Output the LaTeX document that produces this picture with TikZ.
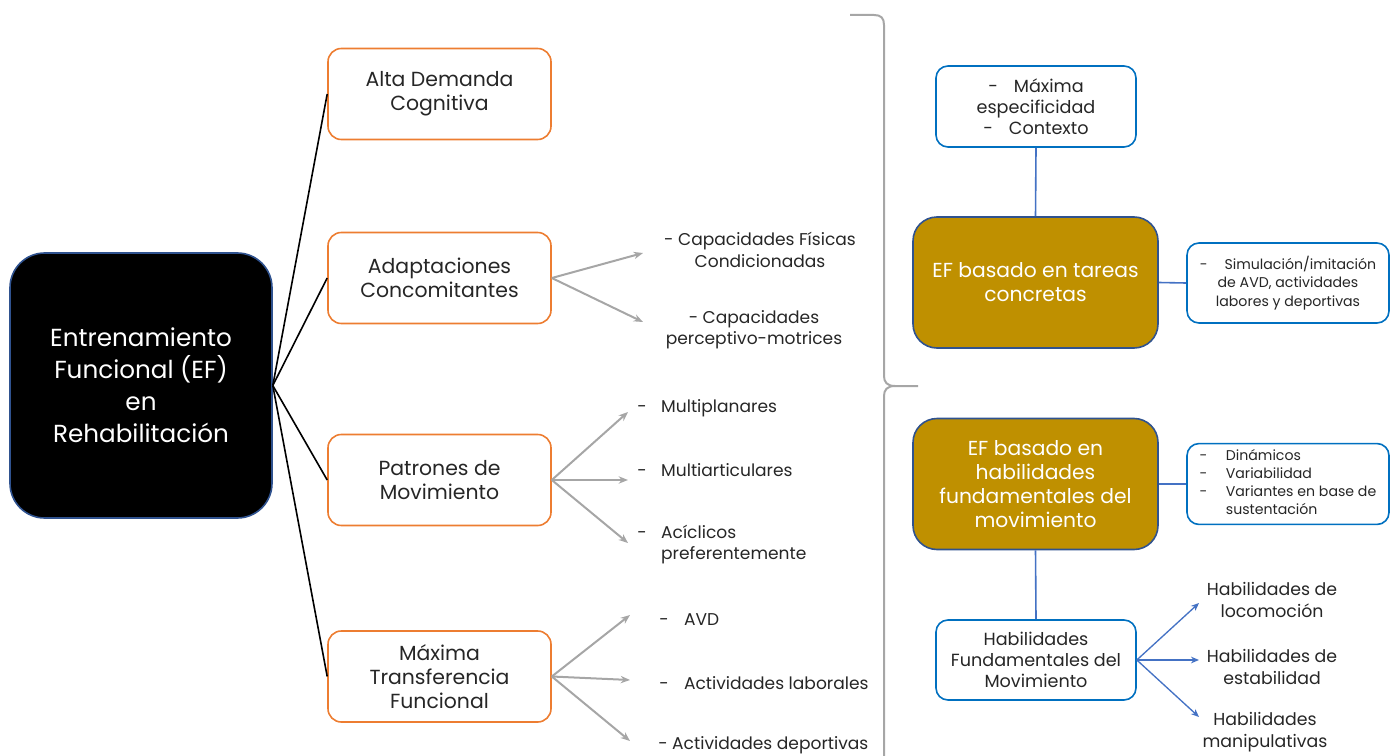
\documentclass[tikz,border=0pt]{standalone}
\usepackage{fontspec}
\setmainfont{Poppins}
\usetikzlibrary{arrows.meta}
\definecolor{orng}{HTML}{ED7D31}
\definecolor{gold}{HTML}{BF9000}
\definecolor{dkblue}{HTML}{2F528F}
\definecolor{bxblue}{HTML}{0070C0}
\definecolor{lnblue}{HTML}{4472C4}
\definecolor{gry}{HTML}{A6A6A6}
\definecolor{txt}{HTML}{262626}
\tikzset{
  mainbox/.style={draw=dkblue, line width=1.2pt, fill=black, rounded corners=26pt, text=white, align=center,
    minimum width=196.5pt, minimum height=198.75pt, font=\fontsize{18.5}{24}\selectfont},
  obox/.style={draw=orng, line width=1.2pt, fill=white, rounded corners=10pt, align=center, text=txt,
    minimum width=167.25pt, minimum height=68.25pt, font=\fontsize{15.3}{18}\selectfont},
  goldbox/.style={draw=dkblue, line width=1.2pt, fill=gold, rounded corners=18pt, align=center, text=white,
    minimum width=183.75pt, minimum height=98.25pt, font=\fontsize{15.2}{18}\selectfont},
  bbox/.style={draw=bxblue, line width=1.2pt, fill=white, rounded corners=9pt, align=center, text=txt,
    minimum width=150pt, minimum height=60.75pt, font=\fontsize{13.2}{15.75}\selectfont},
  sbox/.style={draw=bxblue, line width=1.2pt, fill=white, rounded corners=9pt, align=center, text=txt,
    minimum width=151.5pt, minimum height=60pt, font=\fontsize{10.6}{13.5}\selectfont},
  lbl/.style={text=txt, font=\fontsize{12.8}{16}\selectfont, inner sep=0pt},
  rlbl/.style={text=txt, font=\fontsize{12.8}{16}\selectfont, align=center, inner sep=0pt},
  blk/.style={draw=black, line width=1.2pt},
  garr/.style={draw=gry, line width=1.5pt, -{Stealth[length=7pt,width=5.5pt]}},
  bline/.style={draw=lnblue, line width=1.2pt},
  barr/.style={draw=lnblue, line width=1pt, -{Stealth[length=6pt,width=5pt]}},
  brace/.style={draw=gry, line width=1.5pt},
}
\begin{document}
\begin{tikzpicture}[x=0.75pt,y=-0.75pt]
\useasboundingbox (0,0) rectangle (1395,756);

% main node
\node[mainbox] (main) at (141,385.5) {Entrenamiento\\Funcional (EF)\\en\\Rehabilitación};

% orange boxes
\node[obox] (alta) at (439.5,94) {Alta Demanda\\Cognitiva};
\node[obox] (adap) at (439.5,278) {Adaptaciones\\Concomitantes};
\node[obox] (patr) at (439.5,480) {Patrones de\\Movimiento};
\node[obox] (maxt) at (439.5,676.5) {Máxima\\Transferencia\\Funcional};

\foreach \n in {alta,adap,patr,maxt} \draw[blk] (main.east) -- (\n.west);

% labels of adaptaciones
\node[rlbl] (cf) at (760,250) {- Capacidades Físicas\\Condicionadas};
\node[rlbl] (cp) at (754,330) {- Capacidades\\perceptivo-motrices};
\coordinate (cfa) at (643,253);
\coordinate (cpa) at (643,322);
\draw[garr] (adap.east) -- (cfa);
\draw[garr] (adap.east) -- (cpa);

% labels of patrones
\node[lbl, anchor=west] (mp) at (637,408) {-\hspace{0.85em}Multiplanares};
\node[lbl, anchor=west] (ma) at (637,470) {-\hspace{0.85em}Multiarticulares};
\node[lbl, anchor=north west] (ac) at (637,523) {\begin{tabular}{@{}l@{\hspace{0.85em}}l@{}}-&Acíclicos\\&preferentemente\end{tabular}};
\coordinate (mpa) at (628,412);
\coordinate (maa) at (628,480);
\coordinate (aca) at (628,543);
\draw[garr] (patr.east) -- (mpa);
\draw[garr] (patr.east) -- (maa);
\draw[garr] (patr.east) -- (aca);

% labels of maxima transferencia
\node[lbl, anchor=west] (avd) at (659,620) {-\hspace{0.9em}AVD};
\node[lbl, anchor=west] (al) at (659,683) {-\hspace{0.9em}Actividades laborales};
\node[lbl, anchor=west] (ad) at (658,745) {- Actividades deportivas};
\coordinate (avda) at (630,615);
\coordinate (ala) at (630,680);
\coordinate (ada) at (630,741);
\draw[garr] (maxt.east) -- (avda);
\draw[garr] (maxt.east) -- (ala);
\draw[garr] (maxt.east) -- (ada);

% brace
\draw[brace] (850,15) -- (874,15) .. controls (881,15) and (884,18) .. (884,25) -- (884,376)
  .. controls (884,382) and (887,386) .. (895,386) -- (918,386);
\draw[brace] (895,386) .. controls (887,386) and (884,390) .. (884,396) -- (884,760);

% right side
\node[bbox] (espec) at (1036,106.5) {-\hspace{0.9em}Máxima\\especificidad\\-\hspace{0.9em}Contexto};
\node[goldbox] (tareas) at (1035.5,282.5) {EF basado en tareas\\concretas};
\node[sbox, font=\fontsize{10.6}{14}\selectfont] (simu) at (1288,283) {-\hspace{1.2em}Simulación/imitación\\de AVD, actividades\\labores y deportivas};
\node[goldbox] (habil) at (1035.5,484) {EF basado en\\habilidades\\fundamentales del\\movimiento};
\node[sbox] (dina) at (1288,484) {\begin{tabular}{@{}l@{\hspace{1.3em}}l@{}}-&Dinámicos\\-&Variabilidad\\-&Variantes en base de\\&sustentación\end{tabular}};
\node[bbox, minimum height=60pt] (hfm) at (1036,660) {Habilidades\\Fundamentales del\\Movimiento};

\draw[bline] (espec.south) -- (tareas.north);
\draw[bline] (tareas.east) -- (simu.west);
\draw[bline] (habil.east) -- (dina.west);
\draw[bline] (habil.south) -- (hfm.north);

\node[rlbl, font=\fontsize{13}{16}\selectfont] (loco) at (1272,600) {Habilidades de\\locomoción};
\node[rlbl, font=\fontsize{13}{16}\selectfont] (esta) at (1272,667) {Habilidades de\\estabilidad};
\node[rlbl, font=\fontsize{13}{16}\selectfont] (mani) at (1265,732) {Habilidades\\manipulativas};
\coordinate (locoa) at (1199,603);
\coordinate (estaa) at (1199,660);
\coordinate (mania) at (1199,717);
\draw[barr] (hfm.east) -- (locoa);
\draw[barr] (hfm.east) -- (estaa);
\draw[barr] (hfm.east) -- (mania);
\end{tikzpicture}
\end{document}
